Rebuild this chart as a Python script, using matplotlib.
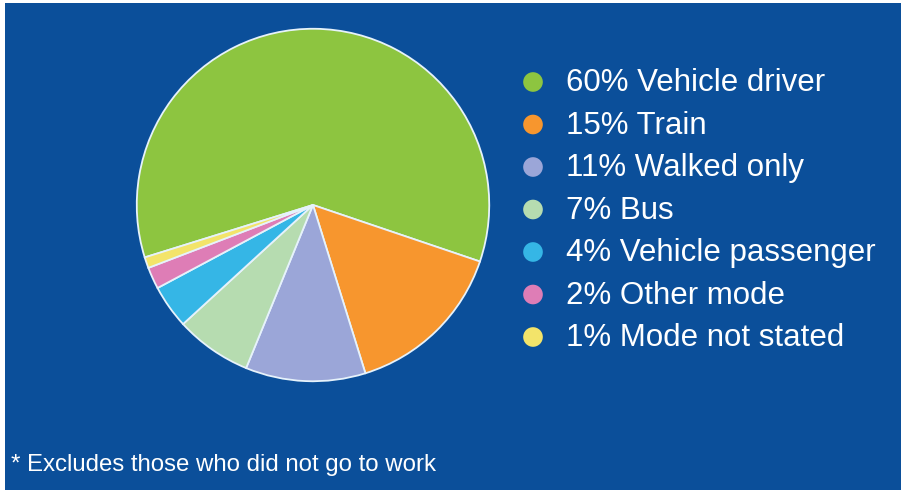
import matplotlib.pyplot as plt

# Journey to work, share by mode
labels = ["Vehicle driver", "Train", "Walked only", "Bus",
          "Vehicle passenger", "Other mode", "Mode not stated"]
shares = [60, 15, 11, 7, 4, 2, 1]
colors = ["#8dc540", "#f7962e", "#9ba6d8", "#b6dcb0",
          "#35b6e6", "#de7db6", "#f3e46a"]
footnote = "* Excludes those who did not go to work"

W, H = 901, 490
bg = "#0b4f9a"

plt.rcParams["font.family"] = ["Liberation Sans", "DejaVu Sans"]
fig = plt.figure(figsize=(W / 100, H / 100), dpi=100, facecolor="white")

# blue panel (thin white margin on left and top)
panel = fig.add_axes([5 / W, 0, 1 - 5 / W, (H - 3) / H])
panel.set_facecolor(bg)
panel.set_xticks([])
panel.set_yticks([])
for s in panel.spines.values():
    s.set_visible(False)

# pie
cx, cy, r = 313, 205, 178
ax = fig.add_axes([(cx - r) / W, (H - cy - r) / H, 2 * r / W, 2 * r / H])
ax.pie(shares, colors=colors, startangle=197.3, counterclock=False,
       wedgeprops=dict(edgecolor="#e6f2fb", linewidth=1.3))
ax.set_xlim(-1.01, 1.01)
ax.set_ylim(-1.01, 1.01)
ax.axis("off")

# legend drawn in pixel coords
leg = fig.add_axes([0, 0, 1, 1], facecolor="none")
leg.set_xlim(0, W)
leg.set_ylim(H, 0)
leg.axis("off")
y0, dy = 82, 42.5
for i, (lab, val, col) in enumerate(zip(labels, shares, colors)):
    y = y0 + i * dy
    leg.scatter([533], [y], s=200, color=col, edgecolors="none")
    leg.text(566, y + 1, f"{val}% {lab}", color="white", fontsize=22.5,
             va="center", ha="left")

leg.text(11, 465, footnote, color="white", fontsize=17.3, va="center", ha="left")

fig.savefig("out.png", dpi=100, facecolor=fig.get_facecolor())
